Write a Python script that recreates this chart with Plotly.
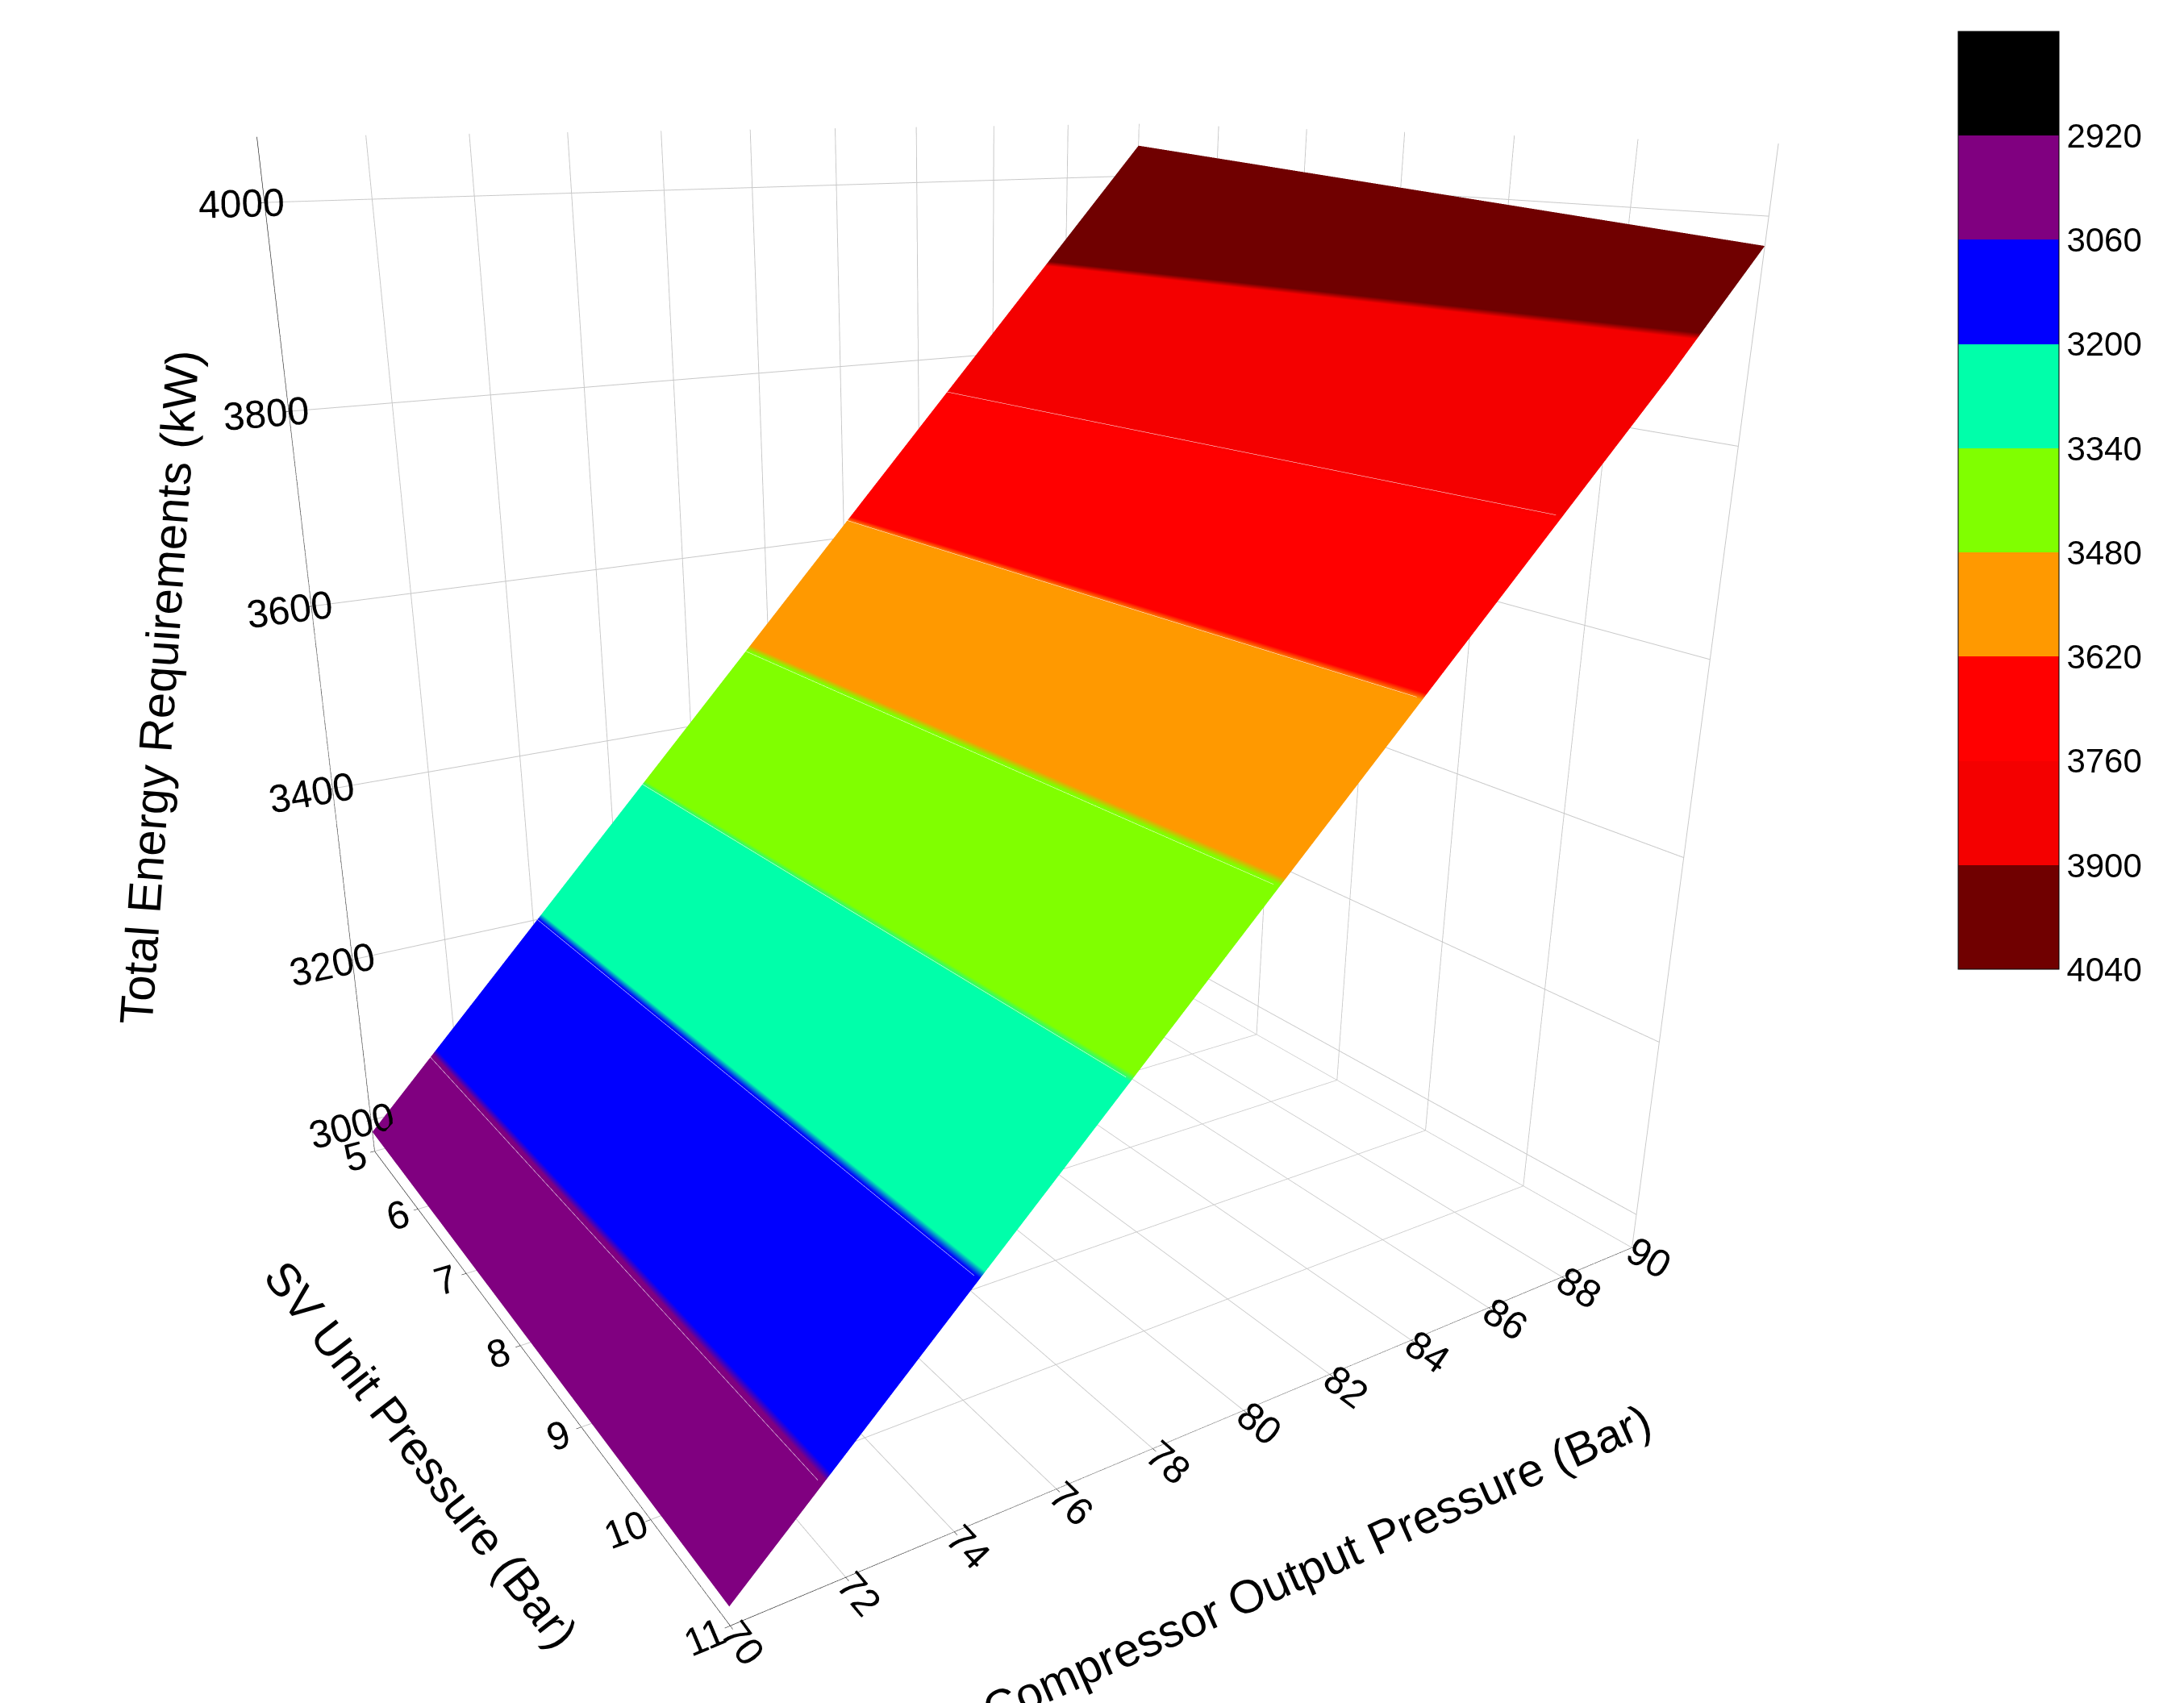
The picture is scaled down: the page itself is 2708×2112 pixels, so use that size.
import numpy as np
import plotly.graph_objects as go

# SV unit pressure (Bar) and compressor output pressure (Bar)
sv_pressure = [5, 6, 7, 8, 9, 10, 11]
comp_pressure = [70, 72, 74, 76, 78, 80, 82, 84, 86, 88, 90]

# total energy requirement (kW), one row per SV pressure, across compressor pressures
energy = [
    [2985, 3090, 3195, 3300, 3405, 3510, 3615, 3720, 3825, 3930, 4035],
    [2984, 3088, 3192, 3296, 3400, 3504, 3608, 3712, 3816, 3920, 4025],
    [2983, 3086, 3189, 3292, 3395, 3498, 3601, 3704, 3807, 3910, 4015],
    [2982, 3084, 3186, 3288, 3390, 3492, 3594, 3696, 3798, 3900, 4005],
    [2981, 3082, 3183, 3284, 3385, 3486, 3587, 3688, 3789, 3890, 3995],
    [2980, 3080, 3180, 3280, 3380, 3480, 3580, 3680, 3780, 3880, 3985],
    [2979, 3078, 3177, 3276, 3375, 3474, 3573, 3672, 3771, 3870, 3975],
]

level_edges = [2780, 2920, 3060, 3200, 3340, 3480, 3620, 3760, 3900, 4040]
level_colors = ["#000000", "#800080", "#0000ff", "#00ffaa", "#80ff00",
                "#ff9900", "#ff0000", "#f40000", "#700000"]

z = np.array(energy).T  # rows = compressor pressure, cols = SV pressure

# colorbar runs 2920 (top) -> 4040 (bottom), so colour by -z
lo, hi = -level_edges[-1], -level_edges[0]
scale = []
rev_colors = level_colors[::-1]
for k, c in enumerate(rev_colors):
    a = k / len(rev_colors)
    b = (k + 1) / len(rev_colors)
    scale += [[a, c], [b, c]]

font = "Liberation Sans, Arial, sans-serif"
fig = go.Figure(go.Surface(
    x=sv_pressure, y=comp_pressure, z=z,
    surfacecolor=-z, cmin=lo, cmax=hi, colorscale=scale,
    showscale=True,
    lighting=dict(ambient=1, diffuse=0, specular=0, fresnel=0),
    contours=dict(z=dict(show=True, start=3060, end=3900, size=140,
                         color="white", width=3)),
    colorbar=dict(
        tickvals=[-v for v in level_edges[1:]],
        ticktext=[str(v) for v in level_edges[1:]],
        len=0.56, y=0.99, yanchor="top", x=0.89, thickness=125,
        outlinewidth=1, outlinecolor="black",
        tickfont=dict(family=font, size=42, color="black"),
        ticks="",
    ),
))

axis_common = dict(
    backgroundcolor="white", showbackground=True,
    gridcolor="#c8c8c8", linecolor="black", showline=True,
    zeroline=False, ticks="outside", tickcolor="black",
    tickfont=dict(family=font, size=24, color="black"),
    title=dict(text=""),
)

# axis titles as paper annotations so they keep a fixed size
title_font = dict(family=font, size=58, color="black")
titles = [
    dict(x=0.19, y=0.15, text="SV Unit Pressure (Bar)", textangle=52),
    dict(x=0.60, y=0.085, text="Compressor Output Pressure (Bar)", textangle=-24),
    dict(x=0.07, y=0.60, text="Total Energy Requirements (kW)", textangle=-86),
]
annotations = [dict(t, xref="paper", yref="paper", xanchor="center", yanchor="middle",
                    showarrow=False, font=title_font)
               for t in titles]

fig.update_layout(
    width=2708, height=2112,
    paper_bgcolor="white",
    margin=dict(l=0, r=0, t=0, b=0),
    font=dict(family=font, color="black"),
    annotations=annotations,
    scene=dict(
        xaxis=dict(axis_common, tickvals=sv_pressure, range=[5, 11]),
        yaxis=dict(axis_common, tickvals=comp_pressure, range=[70, 90]),
        zaxis=dict(axis_common, tickvals=[3000, 3200, 3400, 3600, 3800, 4000],
                   range=[2960, 4060]),
        aspectmode="manual", aspectratio=dict(x=1, y=1.15, z=1.2),
        camera=dict(eye=dict(x=1.82, y=-1.17, z=0.66), center=dict(x=-0.02, y=0, z=-0.17)),
        domain=dict(x=[0, 0.88], y=[0, 1]),
    ),
)
fig.write_html("out.html")
